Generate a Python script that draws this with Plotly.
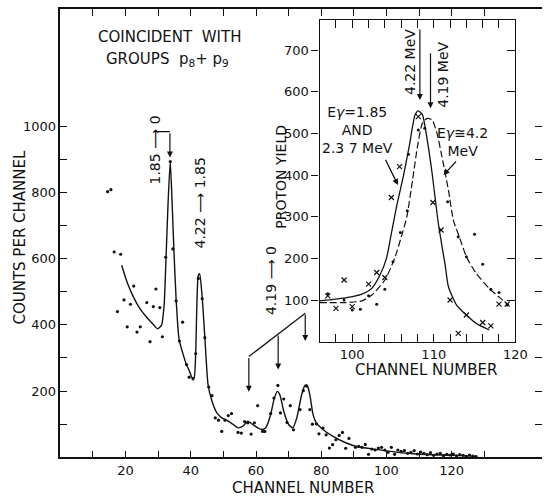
import plotly.graph_objects as go

# ---------------- main spectrum data ----------------
main_dot_x = [14.5, 15.5, 16.5, 17.5, 18.5, 19.5, 20.5, 21.5, 22.5, 23.5,
              24.5, 26.5, 27.5, 28.5, 29.3, 30.5, 31.3, 32.3, 33.7, 34.5,
              35.5, 36.5, 37.5, 38.7, 39.5, 40.7, 41.5, 42.3, 43.5, 44.3,
              45.5, 46.5, 47.5, 48.5, 49.5, 50.5, 51.5, 52.5, 54.5, 55.5,
              56.5, 57.5, 58.5, 59.5, 60.5, 62.0, 62.7, 64.5, 65.5, 66.7,
              67.5, 68.5, 69.5, 70.5, 71.5, 73.5, 74.5, 75.5, 76.5, 77.3,
              78.5, 79.3, 80.5, 81.5, 82.5, 83.5, 84.5, 85.5, 86.5, 87.5,
              88.5, 90.5, 91.5, 92.5, 93.5, 94.5, 95.5, 96.5, 97.5, 98.5,
              99.5, 100.5, 101.5, 102.5, 103.5, 104.5, 105.5, 106.5, 107.5, 108.5,
              109.5, 110.5, 111.5, 112.5, 113.5, 114.5, 115.5, 116.5, 117.5, 118.5,
              119.5, 120.5, 121.5, 122.5, 123.5, 124.5, 125.5, 126.5, 127.5]
main_dot_y = [802, 808, 620, 440, 613, 475, 394, 462, 517, 378,
              394, 467, 349, 455, 508, 452, 364, 604, 893, 629,
              472, 351, 408, 280, 242, 237, 313, 540, 479, 361,
              212, 186, 119, 112, 78, 112, 126, 132, 75, 73,
              108, 104, 70, 104, 156, 78, 78, 132, 179, 217,
              134, 176, 105, 156, 83, 144, 201, 215, 144, 100,
              101, 71, 88, 68, 28, 38, 53, 66, 75, 27,
              57, 30, 33, 30, 39, 9, 25, 22, 28, 30,
              22, 15, 30, 9, 22, 18, 20, 12, 15, 20,
              10, 16, 12, 8, 14, 6, 10, 12, 5, 9,
              7, 10, 4, 8, 6, 3, 7, 4, 2]

main_fit_x = [18.8, 20.5, 22.5, 24.5, 26.5, 28.5, 29.8, 31.0, 31.8, 32.4,
              33.0, 33.7, 34.3, 34.8, 35.5, 36.4, 37.5, 38.5, 39.5, 40.5,
              41.0, 41.5, 42.3, 42.7, 43.5, 44.3, 45.3, 46.5, 48.0, 49.5,
              51.5, 53.0, 54.5, 56.0, 57.5, 59.0, 60.5, 62.0, 63.0, 64.5,
              65.5, 66.5, 67.3, 68.5, 70.0, 71.3, 72.5, 74.0, 75.0, 75.7,
              76.5, 77.5, 78.5, 80.5, 83.5, 87.5, 91.5, 97.5, 103.5, 109.5,
              116.5, 123.5, 127.5]
main_fit_y = [580, 528, 482, 447, 422, 401, 388, 398, 457, 600,
              760, 893, 760, 630, 477, 356, 316, 284, 262, 239,
              240, 314, 549, 554, 481, 364, 219, 169, 134, 119,
              109, 99, 89, 94, 109, 99, 89, 84, 89, 129,
              174, 199, 189, 139, 99, 89, 119, 189, 217, 217,
              189, 129, 104, 84, 64, 44, 31, 23, 15, 10,
              7, 5, 3]

main_x_ticks = [10, 20, 30, 40, 50, 60, 70, 80, 90, 100, 110, 120, 130]
main_x_labels = ["", "20", "", "40", "", "60", "", "80", "", "100", "", "120", ""]
main_y_ticks = [100, 200, 300, 400, 500, 600, 700, 800, 900, 1000]
main_y_labels = ["", "200", "", "400", "", "600", "", "800", "", "1000"]

# ---------------- inset data ----------------
inset_cross_x = [97, 98, 99, 100, 102, 103, 104, 104.8, 105.8, 108.1,
                 109.9, 110.9, 112, 113, 114, 116, 117, 118, 119]
inset_cross_y = [110, 80, 148, 84, 138, 166, 154, 346, 420, 540,
                 334, 268, 100, 20, 64, 46, 38, 90, 90]
inset_dot_x = [97, 99, 100, 101, 102, 103, 104, 105, 105.9, 106.75,
               106.9, 108.1, 108.9, 111.7, 113, 114, 115, 116, 117, 118, 119]
inset_dot_y = [115, 100, 76, 78, 110, 90, 126, 192, 262, 314,
               450, 508, 512, 336, 252, 204, 258, 186, 126, 118, 88]

inset_solid_x = [96, 98, 100, 101.2, 102.4, 103.4, 104.2, 104.8, 105.5, 106.3,
                 107.0, 107.7, 108.1, 108.6, 109.2, 109.8, 110.5, 111.0, 111.4, 111.8,
                 112.8, 114.0, 115.2, 116.8]
inset_solid_y = [98, 102, 108, 114, 128, 160, 200, 260, 330, 400,
                 470, 544, 554, 545, 484, 404, 292, 230, 184, 132,
                 88, 64, 44, 28]
inset_dash_x = [96, 99.2, 101.2, 102.4, 104.0, 105.2, 106.2, 106.7, 107.4, 108.0,
                108.6, 109.2, 109.8, 110.4, 111.0, 111.8, 112.4, 113.2, 114.0, 115.2,
                116.8, 118.2, 119.2]
inset_dash_y = [94, 94, 98, 112, 148, 200, 264, 300, 388, 468,
                524, 536, 532, 500, 444, 364, 292, 248, 204, 164,
                128, 104, 88]

inset_x_ticks = [98, 100, 102, 104, 106, 108, 110, 112, 114, 116, 118, 120]
inset_x_labels = ["", "100", "", "", "", "", "110", "", "", "", "", "120"]
inset_y_ticks = [100, 200, 300, 400, 500, 600, 700]
inset_y_labels = ["100", "200", "300", "400", "500", "600", "700"]

# ---------------- figure ----------------
W, H = 554, 498
FONT = "DejaVu Sans"
INK = "#111111"


def px(x):
    return x / W


def py(y):
    return 1 - y / H


fig = go.Figure()

fig.add_trace(go.Scatter(x=main_fit_x, y=main_fit_y, mode="lines",
                         line=dict(color=INK, width=1.4, shape="spline", smoothing=0.6),
                         xaxis="x", yaxis="y", showlegend=False, hoverinfo="skip"))
fig.add_trace(go.Scatter(x=main_dot_x, y=main_dot_y, mode="markers",
                         marker=dict(color=INK, size=3.2),
                         xaxis="x", yaxis="y", showlegend=False))

fig.add_trace(go.Scatter(x=inset_solid_x, y=inset_solid_y, mode="lines",
                         line=dict(color=INK, width=1.3, shape="spline", smoothing=0.6),
                         xaxis="x2", yaxis="y2", showlegend=False, hoverinfo="skip"))
fig.add_trace(go.Scatter(x=inset_dash_x, y=inset_dash_y, mode="lines",
                         line=dict(color=INK, width=1.2, shape="spline", smoothing=0.6,
                                   dash="7px,3px"),
                         xaxis="x2", yaxis="y2", showlegend=False, hoverinfo="skip"))
fig.add_trace(go.Scatter(x=inset_cross_x, y=inset_cross_y, mode="markers",
                         marker=dict(symbol="x-thin", size=5, color=INK,
                                     line=dict(color=INK, width=1.2)),
                         xaxis="x2", yaxis="y2", showlegend=False))
fig.add_trace(go.Scatter(x=inset_dot_x, y=inset_dot_y, mode="markers",
                         marker=dict(color=INK, size=3),
                         xaxis="x2", yaxis="y2", showlegend=False))
# empty traces to activate the mirrored tick axes
fig.add_trace(go.Scatter(x=[None], y=[None], xaxis="x2", yaxis="y3", showlegend=False))
fig.add_trace(go.Scatter(x=[None], y=[None], xaxis="x", yaxis="y4", showlegend=False))

# main axes geometry (pixels)
mx0, mx1 = 61.7, 554
my_bot, my_top = 457.3, 9
xs = 3.333  # px per channel
ys = 0.33125  # px per count
main_xr = [0, (mx1 - mx0) / xs]
main_yr = [0, (my_bot - my_top) / ys]

# inset geometry
ix0, ix1 = 326.7, 526.7
iy_bot, iy_top = 341.7, 20
inset_xr = [96, 120]
inset_yr = [0, (iy_bot - iy_top) / 0.41667]

tickfont = dict(family=FONT, size=13, color=INK)

fig.update_layout(
    width=W, height=H,
    margin=dict(l=0, r=0, t=0, b=0),
    paper_bgcolor="white", plot_bgcolor="white",
    font=dict(family=FONT, color=INK),
    xaxis=dict(domain=[px(mx0), 1], range=main_xr, showgrid=False, zeroline=False,
               showline=True, linecolor=INK, linewidth=1.5, mirror="ticks",
               ticks="inside", ticklen=7, tickcolor=INK, tickwidth=1.3,
               tickvals=main_x_ticks, ticktext=main_x_labels, tickfont=tickfont,
               anchor="y"),
    yaxis=dict(domain=[py(my_bot), py(my_top)], range=main_yr, showgrid=False,
               zeroline=False, showline=True, linecolor=INK, linewidth=1.5,
               ticks="inside", ticklen=7, tickcolor=INK, tickwidth=1.3,
               tickvals=main_y_ticks, ticktext=main_y_labels, tickfont=tickfont,
               anchor="x"),
    yaxis4=dict(domain=[py(my_bot), py(my_top)], range=main_yr, overlaying="y",
                side="right", showgrid=False, zeroline=False, showline=False,
                ticks="inside", ticklen=7, tickcolor=INK, tickwidth=1.3,
                tickvals=main_y_ticks, showticklabels=False, anchor="x"),
    xaxis2=dict(domain=[px(ix0), px(ix1)], range=inset_xr, showgrid=False,
                zeroline=False, showline=True, linecolor=INK, linewidth=1.4,
                mirror="ticks", ticks="inside", ticklen=8, tickcolor=INK, tickwidth=1.2,
                tickvals=inset_x_ticks, ticktext=inset_x_labels, tickfont=tickfont,
                anchor="y2"),
    yaxis2=dict(domain=[py(iy_bot), py(iy_top)], range=inset_yr, showgrid=False,
                zeroline=False, showline=True, linecolor=INK, linewidth=1.4,
                ticks="outside", ticklen=7, tickcolor=INK, tickwidth=1.2,
                tickvals=inset_y_ticks, ticktext=inset_y_labels, tickfont=tickfont,
                anchor="x2"),
    yaxis3=dict(domain=[py(iy_bot), py(iy_top)], range=inset_yr, overlaying="y2",
                side="right", showgrid=False, zeroline=False, showline=True,
                linecolor=INK, linewidth=1.4, ticks="inside", ticklen=8,
                tickcolor=INK, tickwidth=1.2, tickvals=inset_y_ticks,
                showticklabels=False, anchor="x2"),
)

ann = []


def text(x, y, s, size=15, angle=0, xref="paper", yref="paper"):
    ann.append(dict(x=x, y=y, xref=xref, yref=yref, text=s, showarrow=False,
                    textangle=angle, font=dict(family=FONT, size=size, color=INK),
                    xanchor="center", yanchor="middle"))


def arrow(x, y, ax, ay, xr, yr, head=2, size=1.0):
    ann.append(dict(x=x, y=y, ax=ax, ay=ay, xref=xr, yref=yr, axref=xr, ayref=yr,
                    text="", showarrow=True, arrowhead=head, arrowsize=size,
                    arrowwidth=1.2, arrowcolor=INK, standoff=0, startstandoff=0))


# main labels
text(px(173), py(37), "COINCIDENT  WITH", size=15)
text(px(171), py(59), "GROUPS  p<sub>8</sub>+ p<sub>9</sub>", size=15)
text(px(20), py(237), "COUNTS PER CHANNEL", size=15, angle=-90)
text(px(310), py(488), "CHANNEL NUMBER", size=15)

text(28.9, 928, "1.85 ⟶ 0", size=14, angle=-90, xref="x", yref="y")
text(42.7, 768, "4.22 ⟶ 1.85", size=14, angle=-90, xref="x", yref="y")
text(64.6, 532, "4.19 ⟶ 0", size=14, angle=-90, xref="x", yref="y")

# bracket arrow for the 1.85 -> 0 peak
fig.add_shape(type="line", x0=29, y0=983, x1=33.6, y1=983, xref="x", yref="y",
              line=dict(color=INK, width=1.2))
arrow(33.6, 905, 33.6, 983, "x", "y")

# 4.19 -> 0 arrows
fig.add_shape(type="line", x0=57.8, y0=304, x1=75.1, y1=435, xref="x", yref="y",
              line=dict(color=INK, width=1.2))
arrow(57.8, 198, 57.8, 304, "x", "y")
arrow(66.8, 265, 66.8, 372, "x", "y")
arrow(75.1, 351, 75.1, 435, "x", "y")

# inset labels
text(px(287), py(177), "PROTON YIELD", size=14, angle=-90)
text(px(435), py(370), "CHANNEL NUMBER", size=15)
text(107.0, 672, "4.22 MeV", size=14, angle=-90, xref="x2", yref="y2")
text(111.1, 640, "4.19 MeV", size=14, angle=-90, xref="x2", yref="y2")
arrow(108.3, 580, 108.3, 753, "x2", "y2")
arrow(109.6, 560, 109.6, 696, "x2", "y2")
text(px(365), py(130), "E<i>γ</i>=1.85<br>AND<br>2.3 7 MeV", size=14)
arrow(105.6, 376, 104.0, 440, "x2", "y2")
text(px(473), py(142), "E<i>γ</i>≅4.2<br>MeV", size=14)
arrow(111.2, 400, 112.9, 436, "x2", "y2")

fig.update_layout(annotations=ann)

fig.write_html(
    "out.html",
    config={"displayModeBar": False},
    post_script="document.body.style.margin='0';document.body.style.overflow='hidden';",
)
